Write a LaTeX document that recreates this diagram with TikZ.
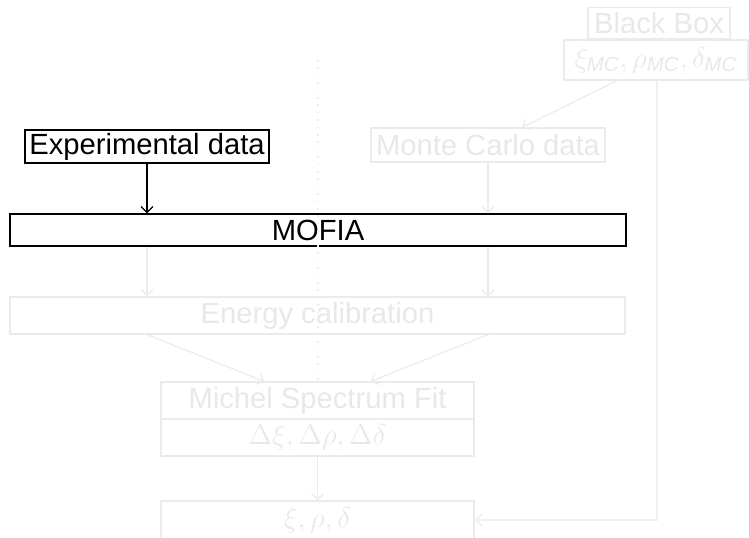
\documentclass[tikz,border=0pt]{standalone}
\usepackage{amsmath}
\usepackage{fontspec}
\setmainfont{Liberation Sans}
\usetikzlibrary{arrows.meta}

\begin{document}
\begin{tikzpicture}
			[x=0.5pt,y=-0.5pt,
			 font=\fontsize{14.6}{17}\selectfont,
			 blk/.style={draw,inner sep=0pt,line width=0.6pt},
			 faded/.style={draw=black!8,text=black!9,inner sep=0pt,line width=0.6pt},
			 arr/.style={-{Straight Barb[length=3pt,width=6pt]},line width=0.6pt},
			 farr/.style={arr,draw=black!8}]

			\useasboundingbox (0,0) rectangle (749,537);

			% blind parameters
			\node[faded,minimum width=71pt,minimum height=15.5pt] (bbox) at (659,23) {Black Box};
			\node[faded,minimum width=92pt,minimum height=20pt] (mcpar) at (656,60)
				{$\xi_{\textit{MC}}, \rho_{\textit{MC}}, \delta_{\textit{MC}}$};

			% inputs
			\node[blk,minimum width=122pt,minimum height=16.5pt] (expd) at (147,146.5) {Experimental data};
			\node[faded,minimum width=117pt,minimum height=17pt] (mcd) at (488,145) {Monte Carlo data};

			% analysis chain
			\node[blk,minimum width=308pt,minimum height=16pt] (mofia) at (318,230) {MOFIA};
			\node[faded,minimum width=307.5pt,minimum height=18.5pt] (ecal) at (317.5,315.5) {Energy calibration};
			\node[faded,minimum width=156.5pt,minimum height=18.5pt] (mfit) at (317.5,400.5) {Michel Spectrum Fit};
			\node[faded,minimum width=156.5pt,minimum height=18.5pt] (dfit) at (317.5,437.5)
				{$\Delta\xi, \Delta\rho, \Delta\delta$};
			\node[faded,minimum width=156.5pt,minimum height=19pt] (res) at (317.5,520) {$\xi, \rho, \delta$};

			\coordinate (dtop) at (318,60);
			\draw[black!7,line width=0.8pt,dash pattern=on 0.8pt off 2.9pt] (dtop) -- (dtop |- mfit.north);

			\draw[arr] (expd) -- (expd |- mofia.north);
			\draw[farr] (mcd) -- (mcd |- mofia.north);
			\draw[farr] (mofia.south -| expd) -- (ecal.north -| expd);
			\draw[farr] (mofia.south -| mcd) -- (ecal.north -| mcd);
			\draw[farr] (ecal.south -| expd) -- ([xshift=52pt]mfit.north west);
			\draw[farr] (ecal.south -| mcd) -- ([xshift=-52pt]mfit.north east);
			\draw[farr] (dfit) -- (res);
			\draw[farr] ([xshift=-19.5pt]mcpar.south) -- ([xshift=17pt]mcd.north);
			\draw[farr,line width=1pt,draw=black!6] ([xshift=0.5pt]mcpar.south) |- (res.east);
		\end{tikzpicture}
\end{document}
